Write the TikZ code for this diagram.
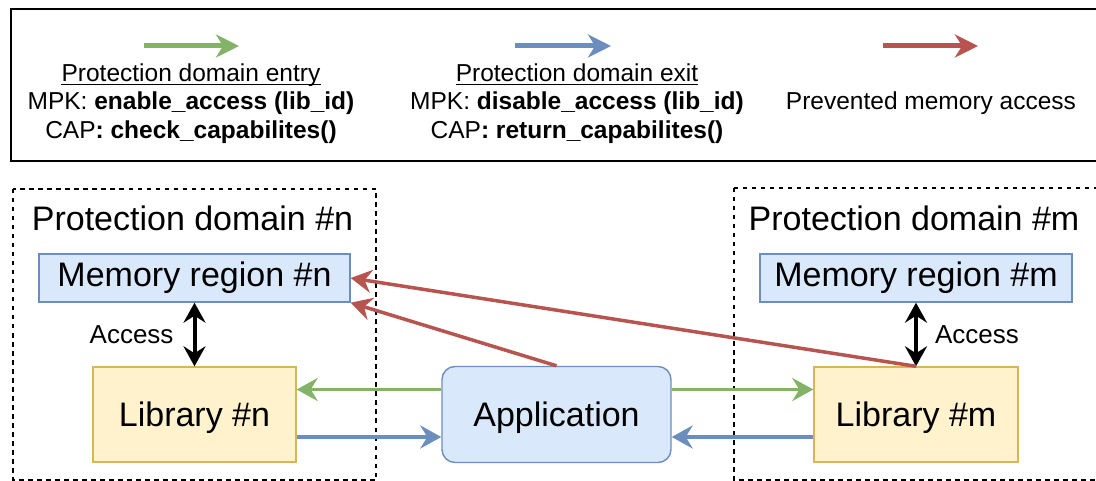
\documentclass[tikz,border=0pt]{standalone}
\usepackage{fontspec}
\setmainfont{Liberation Sans}
\usetikzlibrary{arrows.meta}

\definecolor{pdgreen}{HTML}{82B366}
\definecolor{pdblue}{HTML}{6C8EBF}
\definecolor{pdred}{HTML}{B85450}
\definecolor{pdbluefill}{HTML}{DAE8FC}
\definecolor{pdyellowfill}{HTML}{FFF2CC}
\definecolor{pdyellowline}{HTML}{D6B656}

\begin{document}
\begin{tikzpicture}[x=1pt, y=-1pt,
    bigtext/.style={font=\fontsize{34}{40}\selectfont},
    region/.style={bigtext, draw=pdblue, fill=pdbluefill, line width=1.4pt,
                   minimum width=311pt, minimum height=48pt, inner sep=0pt},
    library/.style={bigtext, draw=pdyellowline, fill=pdyellowfill, line width=1.4pt,
                    minimum width=203pt, minimum height=95pt, inner sep=0pt, text depth=0pt},
    legendtext/.style={font=\fontsize{24.5}{28}\selectfont, inner sep=0pt, anchor=base},
    domainbox/.style={line width=1.8pt, dash pattern=on 4.5pt off 4.5pt},
    flow/.style={line width=3.5pt, -{Stealth[length=21pt, width=23pt, inset=7pt]}},
    keyflow/.style={line width=5pt, -{Stealth[length=23pt, width=23pt, inset=7pt]}},
    access/.style={line width=4pt, {Stealth[length=20pt, width=22pt, inset=7pt]}-{Stealth[length=20pt, width=22pt, inset=7pt]}}]
  \clip (0,0) rectangle (1096,481);

  % legend
  \draw [line width=1.8pt] (11,9) rectangle (1110,161);
  \coordinate (entryfrom) at (144,46);
  \coordinate (entryto) at (239,46);
  \coordinate (exitfrom) at (515,46);
  \coordinate (exitto) at (611,46);
  \coordinate (prevfrom) at (883,46);
  \coordinate (prevto) at (978,46);
  \draw [keyflow, pdgreen] (entryfrom) -- (entryto);
  \draw [keyflow, pdblue] (exitfrom) -- (exitto);
  \draw [keyflow, pdred] (prevfrom) -- (prevto);

  \node [legendtext] (entryhead) at (191,82) {Protection domain entry};
  \node [legendtext] (entrympk) at (191,110) {MPK: \textbf{enable\_access (lib\_id)}};
  \node [legendtext] (entrycap) at (191,139) {CAP\textbf{: check\_capabilites()}};
  \node [legendtext] (exithead) at (577,82) {Protection domain exit};
  \node [legendtext] (exitmpk) at (577,110) {MPK: \textbf{disable\_access (lib\_id)}};
  \node [legendtext] (exitcap) at (577,139) {CAP\textbf{: return\_capabilites()}};
  \node [legendtext] (prevtext) at (931,110) {Prevented memory access};
  \draw [line width=1.3pt] ([yshift=-2.5pt]entryhead.base west) -- ([yshift=-2.5pt]entryhead.base east);
  \draw [line width=1.3pt] ([yshift=-2.5pt]exithead.base west) -- ([yshift=-2.5pt]exithead.base east);

  % protection domains
  \draw [domainbox] (13,189) rectangle (376,480);
  \draw [domainbox] (734,188) rectangle (1110,480);
  \node [bigtext, anchor=base, inner sep=0pt] (domn) at (192.5,231) {Protection domain \#n};
  \node [bigtext, anchor=base, inner sep=0pt] (domm) at (914,231) {Protection domain \#m};

  \node [region] (memn) at (194.5,278) {Memory region \#n};
  \node [region, minimum width=312pt] (memm) at (916,278) {Memory region \#m};
  \node [library] (libn) at (194.5,414.5) {Library \#n};
  \node [library, minimum width=204pt] (libm) at (916,414.5) {Library \#m};
  \node [bigtext, draw=pdblue, fill=pdbluefill, line width=1.4pt, rounded corners=13pt,
         minimum width=229pt, minimum height=96pt, inner sep=0pt, text depth=0pt] (app) at (556.5,414.5) {Application};

  \draw [access] (memn) -- (libn)
        node [midway, left=19pt, inner sep=0pt, font=\fontsize{26}{30}\selectfont] (accn) {Access};
  \draw [access] (memm) -- (libm)
        node [midway, right=17pt, inner sep=0pt, font=\fontsize{26}{30}\selectfont] (accm) {Access};

  % entry / exit
  \draw [flow, pdgreen] ([yshift=25pt]app.west) -- ([yshift=25pt]libn.east);
  \draw [flow, pdgreen] ([yshift=25pt]app.east) -- ([yshift=25pt]libm.west);
  \draw [flow, pdblue] ([yshift=-22.5pt]libn.east) -- ([yshift=-22.5pt]app.west);
  \draw [flow, pdblue] ([yshift=-22.5pt]libm.west) -- ([yshift=-22.5pt]app.east);

  % prevented
  \draw [flow, pdred] (libm.north) -- (memn.east);
  \draw [flow, pdred] (app.north) -- (memn.south east);
\end{tikzpicture}
\end{document}
